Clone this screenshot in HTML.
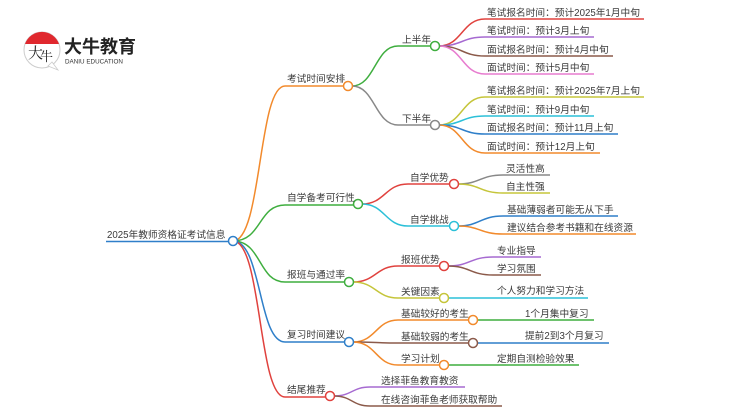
<!DOCTYPE html>
<html><head><meta charset="utf-8"><style>
html,body{margin:0;padding:0;background:#fff;}
svg{display:block;}
text{font-family:"Liberation Sans","Noto Sans CJK SC",sans-serif;font-size:9.7px;fill:#3a3a3a;}
</style></head><body>
<svg width="750" height="410" viewBox="0 0 750 410" xmlns="http://www.w3.org/2000/svg">
<g fill="none" stroke-width="1.5">
<path d="M106 241.5 H229" stroke="#2f7fc9"/>
<path d="M233 241 C262 241 258 86 285 86 H344" stroke="#f28a2c"/>
<path d="M233 241 C262 241 258 205 285 205 H354" stroke="#3fae3f"/>
<path d="M233 241 C262 241 258 282 285 282 H345" stroke="#3fae3f"/>
<path d="M233 241 C262 241 258 342 285 342 H345" stroke="#2f7fc9"/>
<path d="M233 241 C262 241 258 397 285 397 H326" stroke="#e0423e"/>
<path d="M352 86 C375 86 375 46 398 46 H431" stroke="#3fae3f"/>
<path d="M352 86 C375 86 375 125 398 125 H431" stroke="#888"/>
<path d="M362 204 C385 204 385 184 408 184 H450" stroke="#e0423e"/>
<path d="M362 204 C385 204 385 226 408 226 H450" stroke="#2cc0d8"/>
<path d="M353 282 C376 282 376 266 398 266 H440" stroke="#e0423e"/>
<path d="M353 282 C376 282 376 298 398 298 H440" stroke="#c5c53a"/>
<path d="M353 342 C376 342 376 320 398 320 H469" stroke="#f28a2c"/>
<path d="M353 342 C376 342 376 343 398 343 H469" stroke="#8b5a4a"/>
<path d="M353 342 C376 342 376 365 398 365 H440" stroke="#f28a2c"/>
<path d="M334 396 C352 396 352 387 370 387 H465" stroke="#a66ad1"/>
<path d="M334 396 C352 396 352 406 370 406 H502" stroke="#8b5a4a"/>
<path d="M439 46 C462 46 462 19 485 19 H644" stroke="#e0423e"/>
<path d="M439 46 C462 46 462 37 485 37 H594" stroke="#a66ad1"/>
<path d="M439 46 C462 46 462 56 485 56 H613" stroke="#8b5a4a"/>
<path d="M439 46 C462 46 462 74 485 74 H594" stroke="#e77ccf"/>
<path d="M439 125 C462 125 462 97 485 97 H644" stroke="#c5c53a"/>
<path d="M439 125 C462 125 462 116 485 116 H594" stroke="#2cc0d8"/>
<path d="M439 125 C462 125 462 134 485 134 H618" stroke="#2f7fc9"/>
<path d="M439 125 C462 125 462 153 485 153 H600" stroke="#f28a2c"/>
<path d="M458 184 C480 184 480 175 503 175 H550" stroke="#888"/>
<path d="M458 184 C480 184 480 193 503 193 H550" stroke="#c5c53a"/>
<path d="M458 226 C480 226 480 216 503 216 H618" stroke="#2f7fc9"/>
<path d="M458 226 C480 226 480 234 503 234 H636" stroke="#f28a2c"/>
<path d="M448 266 C470 266 470 257 493 257 H541" stroke="#a66ad1"/>
<path d="M448 266 C470 266 470 275 493 275 H541" stroke="#8b5a4a"/>
<path d="M448 298 H588" stroke="#2cc0d8"/>
<path d="M477 320 H594" stroke="#3fae3f"/>
<path d="M477 343 H609" stroke="#2f7fc9"/>
<path d="M448 365 H579" stroke="#3fae3f"/>
</g>
<g fill="#fff" stroke-width="1.5">
<circle cx="233" cy="241" r="4.5" stroke="#2f7fc9"/>
<circle cx="348" cy="86" r="4.5" stroke="#f28a2c"/>
<circle cx="358" cy="204" r="4.5" stroke="#3fae3f"/>
<circle cx="349" cy="282" r="4.5" stroke="#3fae3f"/>
<circle cx="349" cy="342" r="4.5" stroke="#2f7fc9"/>
<circle cx="330" cy="396" r="4.5" stroke="#e0423e"/>
<circle cx="435" cy="46" r="4.5" stroke="#3fae3f"/>
<circle cx="435" cy="125" r="4.5" stroke="#888"/>
<circle cx="454" cy="184" r="4.5" stroke="#e0423e"/>
<circle cx="454" cy="226" r="4.5" stroke="#2cc0d8"/>
<circle cx="444" cy="266" r="4.5" stroke="#e0423e"/>
<circle cx="444" cy="298" r="4.5" stroke="#c5c53a"/>
<circle cx="473" cy="320" r="4.5" stroke="#f28a2c"/>
<circle cx="473" cy="343" r="4.5" stroke="#8b5a4a"/>
<circle cx="444" cy="365" r="4.5" stroke="#f28a2c"/>
</g>
<text x="107" y="238">2025年教师资格证考试信息</text>
<text x="287" y="82">考试时间安排</text>
<text x="287" y="201">自学备考可行性</text>
<text x="287" y="278">报班与通过率</text>
<text x="287" y="338">复习时间建议</text>
<text x="287" y="393">结尾推荐</text>
<text x="402" y="43">上半年</text>
<text x="402" y="122">下半年</text>
<text x="410" y="181">自学优势</text>
<text x="410" y="223">自学挑战</text>
<text x="401" y="263">报班优势</text>
<text x="401" y="295">关键因素</text>
<text x="401" y="317">基础较好的考生</text>
<text x="401" y="340">基础较弱的考生</text>
<text x="401" y="362">学习计划</text>
<text x="381" y="384">选择菲鱼教育教资</text>
<text x="381" y="403">在线咨询菲鱼老师获取帮助</text>
<text x="487" y="16">笔试报名时间：预计2025年1月中旬</text>
<text x="487" y="34">笔试时间：预计3月上旬</text>
<text x="487" y="53">面试报名时间：预计4月中旬</text>
<text x="487" y="71">面试时间：预计5月中旬</text>
<text x="487" y="94">笔试报名时间：预计2025年7月上旬</text>
<text x="487" y="113">笔试时间：预计9月中旬</text>
<text x="487" y="131">面试报名时间：预计11月上旬</text>
<text x="487" y="150">面试时间：预计12月上旬</text>
<text x="506" y="172">灵活性高</text>
<text x="506" y="190">自主性强</text>
<text x="507" y="213">基础薄弱者可能无从下手</text>
<text x="507" y="231">建议结合参考书籍和在线资源</text>
<text x="497" y="254">专业指导</text>
<text x="497" y="272">学习氛围</text>
<text x="497" y="294">个人努力和学习方法</text>
<text x="525" y="317">1个月集中复习</text>
<text x="525" y="339">提前2到3个月复习</text>
<text x="497" y="362">定期自测检验效果</text>
<circle cx="42" cy="50" r="18" fill="#fff" stroke="#ccc" stroke-width="1"/>
<path d="M25 44 A18 18 0 0 1 59 44 Z" fill="#e0282e"/>
<path d="M48 66 L58 70 L52 62 Z" fill="#fff" stroke="#ccc" stroke-width="0.8"/>
<text x="28" y="58" style="font-size:15px;fill:#222;font-family:'Noto Serif CJK SC',serif;">大</text>
<text x="40" y="61" style="font-size:13px;fill:#222;font-family:'Noto Serif CJK SC',serif;">牛</text>
<text x="64" y="53" style="font-size:18px;font-weight:bold;fill:#222;">大牛教育</text>
<text x="65" y="63.5" style="font-size:6.3px;fill:#333;">DANIU EDUCATION</text>
</svg>
</body></html>
